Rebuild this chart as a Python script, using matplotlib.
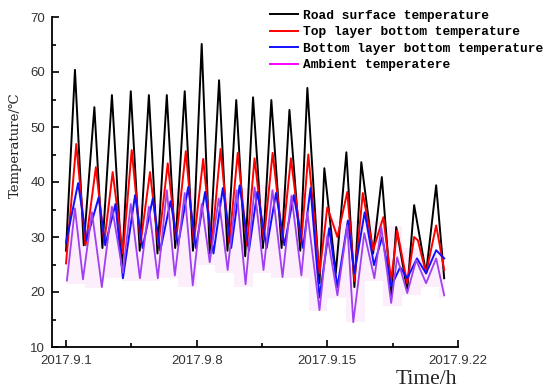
import matplotlib
matplotlib.use('Agg')
import matplotlib.pyplot as plt
from matplotlib.lines import Line2D
from matplotlib.ticker import MultipleLocator, FixedLocator

# ---- data (time in days from 2017.9.1 00:00) ----
road_t = [0.00, 0.48, 0.95, 1.52, 1.95, 2.46, 3.00, 3.47, 3.95, 4.44, 4.90, 5.40, 5.85, 6.36, 6.80,
          7.27, 7.70, 8.20, 8.65, 9.12, 9.60, 10.02, 10.55, 11.00, 11.55, 11.97, 12.55, 12.93, 13.58,
          13.84, 14.45, 15.02, 15.45, 15.82, 16.45, 16.92, 17.42, 17.69, 18.28, 18.65, 19.29, 19.83, 20.26]
road_v = [27.5, 60.4, 28.5, 53.6, 28.0, 55.8, 24.5, 56.5, 27.5, 55.8, 27.0, 55.8, 28.0, 56.5, 27.5,
          65.1, 27.0, 58.5, 27.5, 54.9, 26.5, 55.4, 28.0, 54.9, 28.0, 53.1, 27.5, 57.1, 21.6,
          42.5, 23.4, 45.4, 20.9, 43.6, 27.0, 40.9, 19.0, 31.8, 20.3, 35.8, 23.4, 39.4, 22.5]

top_t = [0.00, 0.55, 1.05, 1.60, 2.05, 2.50, 3.05, 3.52, 4.00, 4.50, 4.95, 5.45, 5.90, 6.42, 6.85,
         7.35, 7.80, 8.28, 8.75, 9.20, 9.70, 10.10, 10.60, 11.07, 11.60, 12.05, 12.60, 12.98, 13.58,
         14.00, 14.54, 15.07, 15.45, 15.90, 16.45, 17.00, 17.42, 17.74, 18.28, 18.65, 18.85, 19.29,
         19.83, 20.26]
top_v = [25.2, 46.9, 28.5, 42.7, 29.0, 41.8, 27.0, 45.8, 29.0, 41.8, 28.5, 43.4, 29.5, 45.6, 29.0,
         44.2, 28.5, 46.0, 29.0, 45.3, 28.5, 44.3, 29.5, 45.3, 29.5, 44.3, 29.0, 45.0, 23.4,
         35.4, 30.0, 38.2, 22.0, 38.0, 27.6, 33.6, 22.1, 31.2, 21.6, 30.0, 29.4, 23.4,
         32.1, 24.0]

bot_t = [0.00, 0.65, 1.10, 1.75, 2.10, 2.65, 3.05, 3.70, 4.10, 4.65, 5.05, 5.60, 6.00, 6.55, 6.95,
         7.45, 7.90, 8.40, 8.85, 9.30, 9.80, 10.25, 10.75, 11.25, 11.70, 12.20, 12.70, 13.10, 13.58,
         14.10, 14.54, 15.10, 15.45, 16.00, 16.50, 16.94, 17.42, 17.90, 18.28, 18.80, 19.29, 19.83, 20.26]
bot_v = [29.0, 39.8, 29.4, 37.2, 28.5, 36.0, 22.5, 37.6, 28.0, 37.0, 27.5, 36.5, 28.5, 39.1, 28.0,
         38.2, 27.0, 38.9, 28.0, 39.4, 27.5, 38.2, 28.0, 38.0, 28.5, 37.6, 28.0, 38.9, 19.0,
         31.6, 20.9, 33.0, 23.4, 34.5, 24.9, 30.0, 21.0, 24.5, 22.5, 26.1, 23.4, 27.6, 26.1]

amb_t = [0.05, 0.48, 0.91, 1.39, 1.92, 2.46, 3.05, 3.47, 3.96, 4.44, 4.92, 5.40, 5.83, 6.36, 6.79,
         7.27, 7.70, 8.18, 8.66, 9.14, 9.62, 10.10, 10.58, 11.06, 11.60, 12.08, 12.61, 12.93, 13.58,
         14.00, 14.54, 15.07, 15.39, 15.98, 16.52, 16.89, 17.42, 17.74, 18.28, 18.76, 19.29, 19.83, 20.26]
amb_v = [22.1, 35.2, 22.3, 34.5, 20.9, 35.5, 23.5, 36.0, 22.5, 35.5, 22.5, 38.5, 23.0, 38.0, 21.2,
         36.0, 25.4, 37.0, 24.0, 38.5, 21.4, 39.0, 24.0, 38.5, 22.7, 37.5, 23.0, 34.5, 16.7,
         30.3, 19.4, 32.1, 14.5, 30.7, 22.5, 31.8, 18.0, 26.3, 19.8, 25.8, 21.6, 26.1, 19.4]

# light shaded band around ambient temperature (one block per day)
band_day = [0, 1, 2, 3, 4, 5, 6, 7, 8, 9, 10, 11, 12, 13, 14, 15, 16, 17, 18, 19, 20]
band_lo = [21.5, 20.8, 22.5, 22.0, 22.0, 22.5, 21.0, 25.0, 23.5, 21.0, 23.5, 22.5, 22.5, 16.5,
           19.0, 14.5, 22.0, 17.5, 19.5, 21.0, 19.0]
band_hi = [36.0, 36.0, 36.0, 37.0, 36.0, 39.0, 39.0, 37.0, 38.0, 39.0, 39.5, 39.0, 38.0, 35.0,
           33.0, 33.0, 33.0, 32.0, 28.0, 27.0, 28.0]

series_names = ['Road surface temperature', 'Top layer bottom temperature',
                'Bottom layer bottom temperature', 'Ambient temperatere']
tick_days = [0, 7, 14, 21]
tick_labels = ['2017.9.1', '2017.9.8', '2017.9.15', '2017.9.22']

# ---- figure ----
fig = plt.figure(figsize=(5.5, 3.92), dpi=100)
ax = fig.add_axes([52/550, 1-347/392, (458-52)/550, (347-17)/392])

ax.fill_between(band_day + [20.3], band_lo + [band_lo[-1]], band_hi + [band_hi[-1]],
                step='post', color='#fdeefb', lw=0, zorder=1)

ax.plot(road_t, road_v, color='black', lw=1.4, zorder=3)
ax.plot(top_t, top_v, color='#ff0000', lw=1.4, zorder=4)
ax.plot(bot_t, bot_v, color='#1010ff', lw=1.4, zorder=5)
ax.plot(amb_t, amb_v, color='#a040f0', lw=1.3, zorder=6)

ax.set_xlim(-0.75, 21)
ax.set_ylim(10, 70)
for s in ['top', 'right']:
    ax.spines[s].set_visible(False)
for s in ['left', 'bottom']:
    ax.spines[s].set_linewidth(1.3)

ax.xaxis.set_major_locator(FixedLocator(tick_days))
ax.set_xticklabels(tick_labels)
ax.xaxis.set_minor_locator(FixedLocator([3.5, 10.5, 17.5]))
ax.yaxis.set_major_locator(MultipleLocator(10))
ax.yaxis.set_minor_locator(MultipleLocator(5))
ax.tick_params(which='both', direction='in', width=1.2, labelsize=9.5, colors='black')
ax.tick_params(which='major', length=5)
ax.tick_params(which='minor', length=3)
ax.tick_params(axis='y', pad=5)
ax.tick_params(axis='x', pad=6)
for lab in ax.get_xticklabels() + ax.get_yticklabels():
    lab.set_fontfamily('Liberation Sans')
    lab.set_color('#333333')

fig.text(0.028, 0.63, 'Temperature/℃', rotation=90, ha='center', va='center',
         fontsize=9.5, family=['DejaVu Serif'], color='#222222')
fig.text(396/550, 1-380/392, 'Time/h', ha='left', va='center', fontsize=15.5,
         family=['Liberation Serif'], color='#222222')

handles = [Line2D([], [], color='black', lw=1.4),
           Line2D([], [], color='#ff0000', lw=1.4),
           Line2D([], [], color='#1010ff', lw=1.4),
           Line2D([], [], color='#ff00ff', lw=1.4)]
leg = fig.legend(handles, series_names, loc='upper left', bbox_to_anchor=(258/550, 1+2/392),
                 frameon=False, handlelength=2.2, handletextpad=0.4, labelspacing=0.35,
                 prop={'family': 'Liberation Mono', 'size': 9.3, 'weight': 'bold'})

fig.savefig('out.png', dpi=100)
